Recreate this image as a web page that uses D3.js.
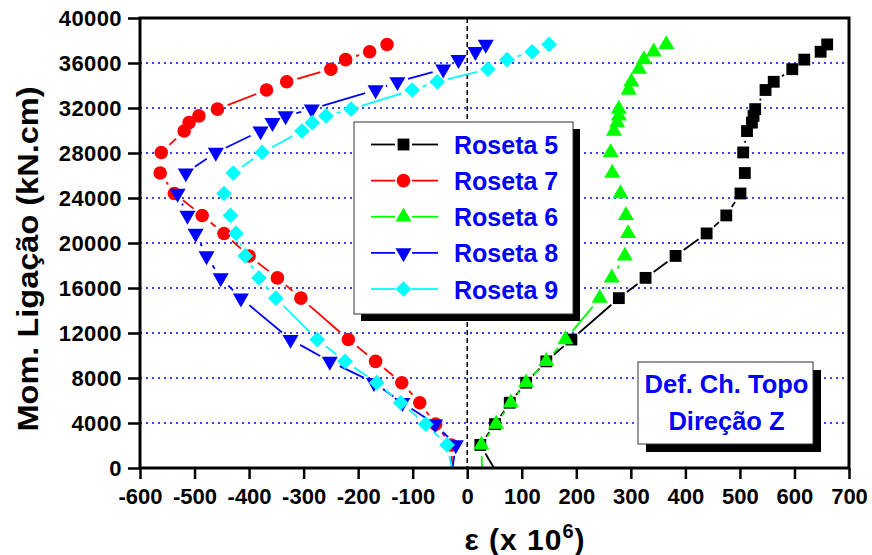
<!DOCTYPE html>
<html>
<head>
<meta charset="utf-8">
<script src="https://cdn.jsdelivr.net/npm/d3@7"></script>
<style>
  body { margin: 0; background: #fff; }
  svg { display: block; }
  text { font-family: Arial, "Liberation Sans", sans-serif; font-weight: bold; }
</style>
</head>
<body>
<svg id="chart" width="872" height="555"></svg>
<script>
// Load steps (bending moment at the connection, kN.cm); the first step is the unloaded reading
const moment = [0, 2050, 3900, 5800, 7580, 9480, 11420, 15100, 16900, 18850, 20850, 22450,
  24400, 26220, 28050, 29950, 30700, 31300, 31900, 33600, 34330, 35450, 36300, 37000, 37650];

// Strain readings (x 10^-6) for each rosette, one value per load step
const roseta5 = [49, 24, 51, 78, 108, 145, 191, 278, 327, 382, 439, 475,
  501, 509, 506, 513, 522, 525, 528, 547, 562, 596, 618, 648, 660];
const roseta7 = [-28, -29, -58, -87, -120, -168, -218, -305, -348, -400, -446, -486,
  -537, -563, -561, -519, -510, -492, -458, -368, -331, -250, -223, -179, -147];
const roseta6 = [27, 26, 53, 80, 108, 145, 180, 243, 265, 289, 295, 291,
  281, 266, 263, 269, 275, 278, 278, 296, 301, 315, 324, 342, 365];
const roseta8 = [-27, -21, -59, -119, -171, -252, -324, -415, -452, -478, -498, -513,
  -531, -516, -461, -379, -357, -333, -285, -168, -128, -44, -16, 15, 34];
const roseta9 = [-28, -37, -76, -122, -166, -224, -275, -351, -382, -407, -424, -434,
  -446, -429, -376, -303, -284, -259, -213, -101, -55, 38, 73, 119, 150];

const seriesNames = ["Roseta 5", "Roseta 7", "Roseta 6", "Roseta 8", "Roseta 9"];
const seriesValues = [roseta5, roseta7, roseta6, roseta8, roseta9];
const seriesColors = ["#000000", "#ff0000", "#00ff00", "#0000ff", "#00ffff"];
const seriesSymbols = ["square", "circle", "triangleUp", "triangleDown", "diamond"];

const xTicks = d3.range(-600, 701, 100);
const xMinorTicks = d3.range(-600, 701, 50);
const yTicks = d3.range(0, 40001, 4000);
const yMinorTicks = d3.range(0, 40001, 2000);
const gridLevels = d3.range(4000, 36001, 4000);

const annotationLines = ["Def. Ch. Topo", "Direção Z"];
const xTitle = "ε (x 10";
const xTitleSup = "6";
const yTitle = "Mom. Ligação (kN.cm)";

// ---- layout ----
const plot = { left: 140, right: 849, top: 18, bottom: 468 };
const svg = d3.select("#chart");
const blue = "#0000ff";

const x = d3.scaleLinear().domain([-600, 700]).range([plot.left, plot.right]);
const y = d3.scaleLinear().domain([0, 40000]).range([plot.bottom, plot.top]);

// marker shapes
const symbolSpec = {
  square:       { type: d3.symbolSquare,   size: 140, rot: 0,   gap: 10 },
  circle:       { type: d3.symbolCircle,   size: 145, rot: 0,   gap: 11 },
  triangleUp:   { type: d3.symbolTriangle, size: 112, rot: 0,   gap: 11 },
  triangleDown: { type: d3.symbolTriangle, size: 112, rot: 180, gap: 11 },
  diamond:      { type: d3.symbolSquare,   size: 124, rot: 45,  gap: 11 }
};
function symbolPath(kind) {
  const s = symbolSpec[kind];
  return d3.symbol().type(s.type).size(s.size)();
}

// ---- dotted grid lines ----
svg.append("g")
  .selectAll("line")
  .data(gridLevels)
  .join("line")
  .attr("x1", plot.left)
  .attr("x2", plot.right)
  .attr("y1", d => y(d))
  .attr("y2", d => y(d))
  .attr("stroke", blue)
  .attr("stroke-width", 1.5)
  .attr("stroke-dasharray", "2,4");

// ---- dashed zero-strain reference ----
svg.append("line")
  .attr("x1", x(0)).attr("x2", x(0))
  .attr("y1", plot.top).attr("y2", plot.bottom)
  .attr("stroke", "#000")
  .attr("stroke-width", 1.5)
  .attr("stroke-dasharray", "5,3");

// ---- series ----
const seriesLayer = svg.append("g");
seriesValues.forEach((vals, i) => {
  const kind = seriesSymbols[i];
  const spec = symbolSpec[kind];
  const color = seriesColors[i];
  const pts = vals.map((v, k) => ({ px: x(v), py: y(moment[k]), marked: moment[k] > 0 }));
  const g = seriesLayer.append("g");

  // connecting segments, stopped short of each marker
  const segs = [];
  for (let k = 1; k < pts.length; k++) {
    const a = pts[k - 1], b = pts[k];
    const dx = b.px - a.px, dy = b.py - a.py;
    const len = Math.hypot(dx, dy);
    const ga = a.marked ? spec.gap : 0;
    const gb = b.marked ? spec.gap : 0;
    if (len > ga + gb + 1) {
      const ux = dx / len, uy = dy / len;
      segs.push({
        x1: a.px + ux * ga, y1: a.py + uy * ga,
        x2: b.px - ux * gb, y2: b.py - uy * gb
      });
    }
  }
  g.selectAll("line")
    .data(segs)
    .join("line")
    .attr("x1", d => d.x1).attr("y1", d => d.y1)
    .attr("x2", d => d.x2).attr("y2", d => d.y2)
    .attr("stroke", color)
    .attr("stroke-width", 1.8);

  g.selectAll("path")
    .data(pts.filter(p => p.marked))
    .join("path")
    .attr("d", symbolPath(kind))
    .attr("transform", d => `translate(${d.px},${d.py}) rotate(${spec.rot})`)
    .attr("fill", color);
});

// ---- legend ----
const legend = { x: 354, y: 122, w: 219, h: 192, shadow: 7 };
const lg = svg.append("g");
lg.append("rect")
  .attr("x", legend.x + legend.shadow).attr("y", legend.y + legend.shadow)
  .attr("width", legend.w).attr("height", legend.h)
  .attr("fill", "#000");
lg.append("rect")
  .attr("x", legend.x).attr("y", legend.y)
  .attr("width", legend.w).attr("height", legend.h)
  .attr("fill", "#fff").attr("stroke", "#333").attr("stroke-width", 1);

const rowY = d3.scalePoint().domain(seriesNames).range([144.5, 289]);
seriesNames.forEach((name, i) => {
  const ry = rowY(name);
  const kind = seriesSymbols[i];
  const spec = symbolSpec[kind];
  const color = seriesColors[i];
  const cx = 403.5;
  lg.append("line").attr("x1", 371).attr("x2", cx - 8.5).attr("y1", ry).attr("y2", ry)
    .attr("stroke", color).attr("stroke-width", 1.8);
  lg.append("line").attr("x1", cx + 8.5).attr("x2", 438).attr("y1", ry).attr("y2", ry)
    .attr("stroke", color).attr("stroke-width", 1.8);
  lg.append("path").attr("d", symbolPath(kind))
    .attr("transform", `translate(${cx},${ry}) rotate(${spec.rot})`)
    .attr("fill", color);
  lg.append("text")
    .attr("x", 454).attr("y", ry + 9.5)
    .attr("font-size", 25)
    .attr("fill", blue)
    .text(name);
});

// ---- annotation box ----
const note = { x: 638, y: 362, w: 175, h: 82, shadow: 8 };
const ng = svg.append("g");
ng.append("rect")
  .attr("x", note.x + note.shadow).attr("y", note.y + note.shadow)
  .attr("width", note.w).attr("height", note.h)
  .attr("fill", "#000");
ng.append("rect")
  .attr("x", note.x).attr("y", note.y)
  .attr("width", note.w).attr("height", note.h)
  .attr("fill", "#fff").attr("stroke", "#333").attr("stroke-width", 1);
annotationLines.forEach((t, i) => {
  ng.append("text")
    .attr("x", note.x + note.w / 2 + 1)
    .attr("y", 393 + i * 37)
    .attr("text-anchor", "middle")
    .attr("font-size", 25.5)
    .attr("fill", blue)
    .text(t);
});

// ---- axes ----
const plainNumber = d => String(d);

const xAxisG = svg.append("g").attr("transform", `translate(0,${plot.bottom})`);
xAxisG.call(d3.axisBottom(x).tickValues(xMinorTicks).tickSize(6).tickFormat(""));
xAxisG.call(d3.axisBottom(x).tickValues(xTicks).tickSize(11).tickPadding(9).tickSizeOuter(0)
  .tickFormat(plainNumber));
xAxisG.selectAll(".domain").remove();
xAxisG.selectAll("line").attr("stroke", "#000").attr("stroke-width", 2.5);
xAxisG.selectAll("text").attr("font-size", 22).attr("fill", "#000")
  .attr("font-family", "Arial, 'Liberation Sans', sans-serif");

const yAxisG = svg.append("g").attr("transform", `translate(${plot.left},0)`);
yAxisG.call(d3.axisLeft(y).tickValues(yMinorTicks).tickSize(7).tickFormat(""));
yAxisG.call(d3.axisLeft(y).tickValues(yTicks).tickSize(12).tickPadding(6).tickSizeOuter(0)
  .tickFormat(plainNumber));
yAxisG.selectAll(".domain").remove();
yAxisG.selectAll("line").attr("stroke", "#000").attr("stroke-width", 2.5);
yAxisG.selectAll("text").attr("font-size", 22).attr("letter-spacing", 0.4).attr("fill", "#000")
  .attr("font-family", "Arial, 'Liberation Sans', sans-serif");

// frame
svg.append("rect")
  .attr("x", plot.left).attr("y", plot.top)
  .attr("width", plot.right - plot.left).attr("height", plot.bottom - plot.top)
  .attr("fill", "none").attr("stroke", "#000").attr("stroke-width", 3);

// ---- axis titles ----
const xt = svg.append("text")
  .attr("x", 525).attr("y", 550)
  .attr("text-anchor", "middle")
  .attr("font-size", 30)
  .attr("letter-spacing", 1)
  .attr("fill", "#000");
xt.append("tspan").text(xTitle);
xt.append("tspan").attr("dy", -12).attr("font-size", 20).text(xTitleSup);
xt.append("tspan").attr("dy", 12).text(")");

svg.append("text")
  .attr("transform", "translate(38,259) rotate(-90)")
  .attr("text-anchor", "middle")
  .attr("font-size", 30)
  .attr("textLength", 345)
  .attr("lengthAdjust", "spacingAndGlyphs")
  .attr("fill", "#000")
  .text(yTitle);
</script>
</body>
</html>
